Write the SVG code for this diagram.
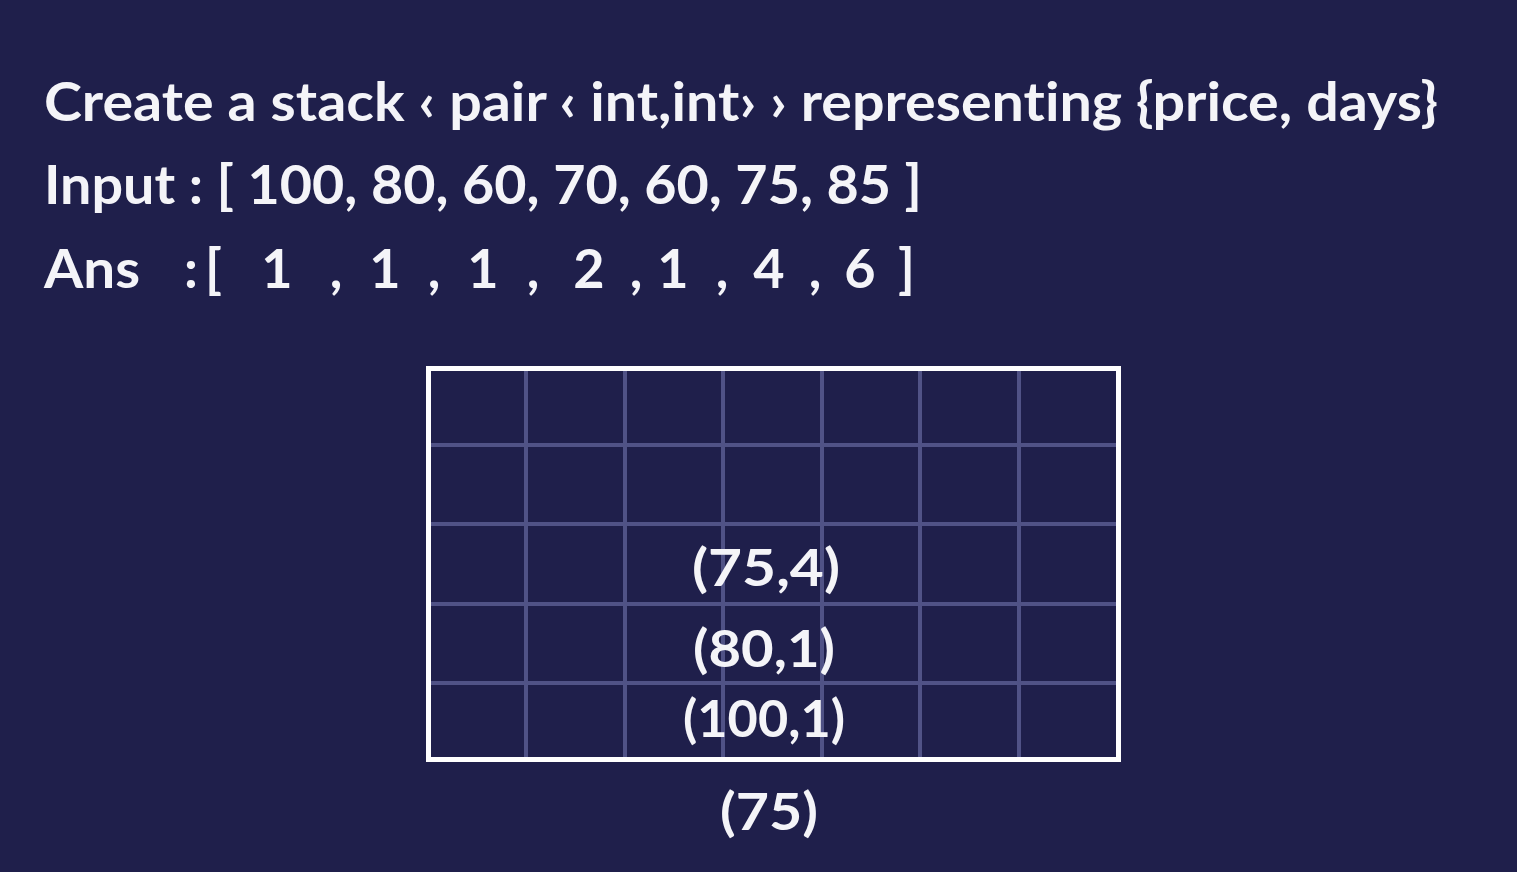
<svg xmlns="http://www.w3.org/2000/svg" width="1517" height="872" viewBox="0 0 1517 872">
<style>
.t{font-family:Lato,"Noto Sans","Liberation Sans",sans-serif;font-weight:bold;fill:#f4f4f8;font-variant-ligatures:none;}
.h{font-size:54px;}
.s{font-size:52px;}
.grid line{stroke:#505286;stroke-width:4;}
</style>
<rect x="0" y="0" width="1517" height="872" fill="#1f1f4b"/>
<g id="header">
<text class="t h" x="44" y="121" textLength="1394" lengthAdjust="spacingAndGlyphs">Create a stack ‹ pair ‹ int,int› › representing {price, days}</text>
<text class="t h" x="44" y="204" textLength="878" lengthAdjust="spacingAndGlyphs">Input : [ 100, 80, 60, 70, 60, 75, 85 ]</text>
</g>
<g id="ans" class="t h">
<text x="44" y="288" textLength="96" lengthAdjust="spacingAndGlyphs">Ans</text>
<text x="184" y="288">:</text>
<text x="205" y="288">[</text>
<text x="277" y="288" text-anchor="middle">1</text>
<text x="336" y="288" text-anchor="middle">,</text>
<text x="385" y="288" text-anchor="middle">1</text>
<text x="434" y="288" text-anchor="middle">,</text>
<text x="483" y="288" text-anchor="middle">1</text>
<text x="533" y="288" text-anchor="middle">,</text>
<text x="589" y="288" text-anchor="middle">2</text>
<text x="636" y="288" text-anchor="middle">,</text>
<text x="673" y="288" text-anchor="middle">1</text>
<text x="722" y="288" text-anchor="middle">,</text>
<text x="769" y="288" text-anchor="middle">4</text>
<text x="815" y="288" text-anchor="middle">,</text>
<text x="860" y="288" text-anchor="middle">6</text>
<text x="898" y="288">]</text>
</g>
<g id="stack">
<g class="grid">
<line x1="526" y1="371" x2="526" y2="757"/>
<line x1="625" y1="371" x2="625" y2="757"/>
<line x1="723" y1="371" x2="723" y2="757"/>
<line x1="822" y1="371" x2="822" y2="757"/>
<line x1="920" y1="371" x2="920" y2="757"/>
<line x1="1019" y1="371" x2="1019" y2="757"/>
<line x1="431" y1="445" x2="1116" y2="445"/>
<line x1="431" y1="524" x2="1116" y2="524"/>
<line x1="431" y1="604" x2="1116" y2="604"/>
<line x1="431" y1="683" x2="1116" y2="683"/>
</g>
<rect x="428.5" y="368.5" width="690" height="391" fill="none" stroke="#ffffff" stroke-width="5"/>
</g>
<g id="item-75-4"><text class="t s" x="766" y="586" text-anchor="middle" textLength="148" lengthAdjust="spacingAndGlyphs">(75,4)</text></g>
<g id="item-80-1"><text class="t s" x="764" y="667" text-anchor="middle" textLength="142" lengthAdjust="spacingAndGlyphs">(80,1)</text></g>
<g id="item-100-1"><text class="t s" x="764" y="737" text-anchor="middle" textLength="162" lengthAdjust="spacingAndGlyphs">(100,1)</text></g>
<g id="current"><text class="t s" x="769" y="830" text-anchor="middle" textLength="98" lengthAdjust="spacingAndGlyphs">(75)</text></g>
</svg>
